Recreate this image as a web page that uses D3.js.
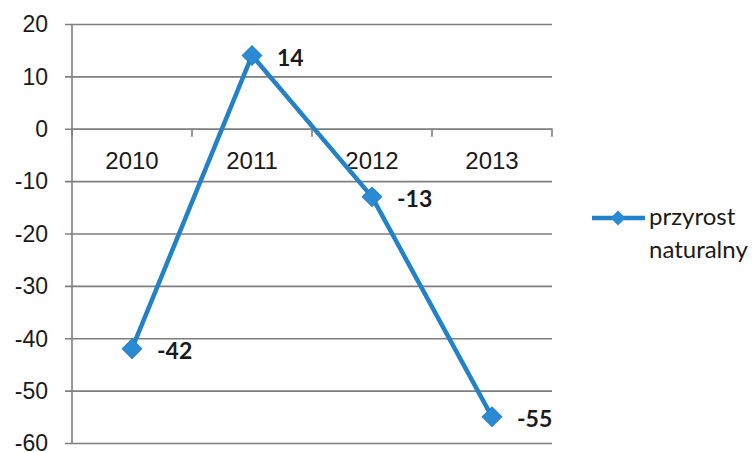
<!DOCTYPE html>
<html>
<head>
<meta charset="utf-8">
<script src="https://cdn.jsdelivr.net/npm/d3@7"></script>
<style>
  body { margin: 0; background: #fff; }
  svg { display: block; font-family: Lato, "Open Sans", sans-serif; }
</style>
</head>
<body>
<svg id="chart" width="755" height="452"></svg>
<script>
// data
const years = ['2010', '2011', '2012', '2013'];
const przyrost = [-42, 14, -13, -55];
const yTicks = [-60, -50, -40, -30, -20, -10, 0, 10, 20];
const seriesName = ['przyrost', 'naturalny'];

const svg = d3.select('#chart');
const blue = '#2381c8';
const grid = '#7e7e7e';
const ink = '#1a1a1a';

const x = d3.scaleBand().domain(years).range([72, 552]);
const y = d3.scaleLinear().domain([-60, 20]).range([443, 24]);

// horizontal gridlines + y labels (plain hyphen minus like the original)
const yAxis = d3.axisLeft(y)
  .tickValues(yTicks)
  .tickSize(487)
  .tickPadding(17)
  .tickFormat(d => String(d));

svg.append('g')
  .attr('transform', 'translate(552,0)')
  .call(yAxis)
  .call(g => g.select('.domain').remove())
  .call(g => g.selectAll('line').attr('stroke', grid).attr('stroke-width', 1.6))
  .call(g => g.selectAll('text')
    .attr('fill', ink)
    .style('font-size', '23px')
    .attr('dy', '0.34em'));

// vertical axis line
svg.append('line')
  .attr('x1', 72).attr('x2', 72)
  .attr('y1', y(20)).attr('y2', y(-60))
  .attr('stroke', grid).attr('stroke-width', 1.6);

// category axis at zero
const xAxis = d3.axisBottom(x).tickSize(0).tickPadding(23);
svg.append('g')
  .attr('transform', `translate(0,${y(0)})`)
  .call(xAxis)
  .call(g => g.select('.domain').attr('stroke', grid).attr('stroke-width', 1.6))
  .call(g => g.selectAll('text')
    .attr('fill', ink)
    .style('font-size', '24px'));

// boundary ticks between categories
const bounds = years.map(d => x(d)).concat([x.range()[1]]);
svg.append('g')
  .selectAll('line')
  .data(bounds)
  .enter()
  .append('line')
  .attr('x1', d => d).attr('x2', d => d)
  .attr('y1', y(0)).attr('y2', y(0) + 8)
  .attr('stroke', grid).attr('stroke-width', 1.6);

const cx = d => x(d) + x.bandwidth() / 2;
const pts = years.map((d, i) => ({ year: d, v: przyrost[i] }));

// series line
const line = d3.line().x(d => cx(d.year)).y(d => y(d.v));
svg.append('path')
  .datum(pts)
  .attr('d', line)
  .attr('fill', 'none')
  .attr('stroke', blue)
  .attr('stroke-width', 4.5)
  .attr('stroke-linejoin', 'round');

// diamond markers
const diamond = d3.symbol().type(d3.symbolSquare).size(190);
svg.append('g')
  .selectAll('path')
  .data(pts)
  .enter()
  .append('path')
  .attr('d', diamond)
  .attr('transform', d => `translate(${cx(d.year)},${y(d.v)}) rotate(45)`)
  .attr('fill', '#2a8ad2')
  .attr('stroke', blue)
  .attr('stroke-width', 1);

// value labels
svg.append('g')
  .selectAll('text')
  .data(pts)
  .enter()
  .append('text')
  .attr('x', d => cx(d.year) + 25)
  .attr('y', d => y(d.v) + 2)
  .attr('dy', '0.36em')
  .attr('fill', ink)
  .style('font-size', '23px')
  .style('font-weight', 'bold')
  .text(d => String(d.v));

// legend
const lg = svg.append('g').attr('transform', 'translate(592,218)');
lg.append('line')
  .attr('x1', 0).attr('x2', 53)
  .attr('stroke', blue).attr('stroke-width', 4.5);
lg.append('path')
  .attr('d', d3.symbol().type(d3.symbolSquare).size(110))
  .attr('transform', 'translate(26,0) rotate(45)')
  .attr('fill', '#2a8ad2');
lg.selectAll('text')
  .data(seriesName)
  .enter()
  .append('text')
  .attr('x', 57)
  .attr('y', (d, i) => i * 33)
  .attr('dy', '0.3em')
  .attr('fill', ink)
  .style('font-size', '24px')
  .text(d => d);
</script>
</body>
</html>
